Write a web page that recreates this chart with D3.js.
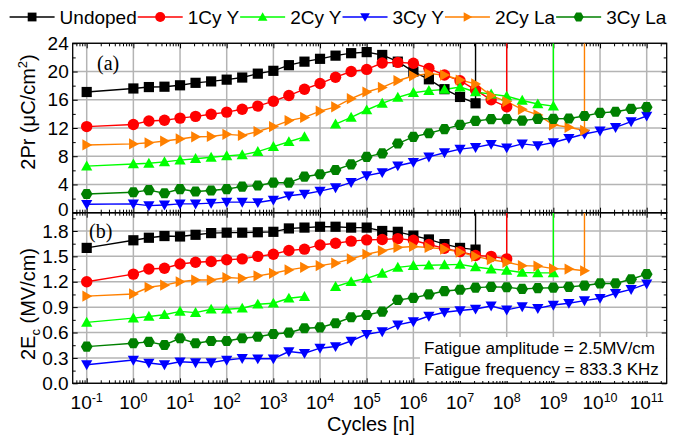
<!DOCTYPE html>
<html>
<head>
<meta charset="utf-8">
<script src="https://cdn.jsdelivr.net/npm/d3@7"></script>
<style>
  body { margin: 0; background: #fff; }
  svg { display: block; }
  text { font-family: "Liberation Sans", Arial, sans-serif; fill: #000; }
</style>
</head>
<body>
<svg id="chart" width="683" height="437"></svg>
<script>
// Fatigue cycles (log spaced, three points per decade after the first)
const cycles = [0.1, 1, 2.15, 4.64, 10, 21.5, 46.4, 100, 215, 464,
  1e3, 2.15e3, 4.64e3, 1e4, 2.15e4, 4.64e4, 1e5, 2.15e5, 4.64e5,
  1e6, 2.15e6, 4.64e6, 1e7, 2.15e7, 4.64e7, 1e8, 2.15e8, 4.64e8,
  1e9, 2.15e9, 4.64e9, 1e10, 2.15e10, 4.64e10, 1e11];

const seriesNames = ["Undoped", "1Cy Y", "2Cy Y", "3Cy Y", "2Cy La", "3Cy La"];
const seriesColors = ["#000000", "#ff0000", "#00ff00", "#0000ff", "#ff8000", "#008000"];
const seriesSymbols = ["square", "circle", "up", "down", "right", "hexagon"];
// series that end in breakdown
const brokenDown = [true, true, true, false, true, false];

// 2Pr (uC/cm^2)
const prUndoped = [17.1, 17.6, 17.8, 17.85, 18.05, 18.4, 18.6, 18.85, 19.15, 19.7,
  20.1, 20.9, 21.4, 21.8, 22.25, 22.6, 22.75, 22.35, 21.4, 20.0,
  18.9, 17.5, 16.4, 15.5];
const pr1CyY = [12.2, 12.5, 13.0, 13.1, 13.4, 13.65, 13.95, 14.25, 14.65, 15.1,
  15.8, 16.6, 17.5, 18.3, 19.2, 20.0, 20.3, 21.2, 21.3, 21.17,
  20.45, 19.5, 18.7, 17.4, 16.0, 15.0];
const pr2CyY = [6.6, 6.9, 7.0, 7.2, 7.45, 7.65, 7.85, 8.05, 8.2, 8.65,
  9.35, 10.05, 10.75, null, 12.55, 13.5, 14.55, 15.5, 16.35, 17.0,
  17.3, 17.45, 17.8, 17.1, 16.8, 16.5, 15.9, 15.4, 15.1];
const pr3CyY = [1.2, 1.25, 1.0, 1.1, 1.25, 1.25, 1.35, 1.5, 1.5, 1.45,
  1.8, 2.4, 2.65, 3.05, 3.55, 4.3, 5.25, 5.7, 6.65, 7.15,
  7.9, 8.5, 9.0, 9.25, 9.7, 9.2, 9.75, 9.5, 9.95, 10.55,
  11.15, 11.6, 12.1, 12.9, 13.7];
const pr2CyLa = [9.6, 9.75, 9.9, 10.15, 10.45, 10.75, 10.8, 11.1, 10.95, 11.5,
  12.2, 13.05, 13.5, 14.4, 15.0, 16.15, 17.1, 17.75, 18.7, 19.4,
  19.7, 19.5, 18.8, 18.25, 16.6, 15.75, 14.65, 13.85, 12.45, 12.1,
  11.65];
const pr3CyLa = [2.65, 2.9, 3.2, 2.75, 3.35, 3.0, 3.15, 3.35, 3.7, 3.85,
  4.25, 4.25, 5.1, 5.45, 6.05, 6.85, 7.9, 8.4, 9.8, 10.75,
  11.25, 11.85, 12.45, 13.0, 13.25, 13.25, 13.05, 13.3, 13.3, 13.35,
  13.7, 14.15, 14.3, 14.7, 14.95];

// 2Ec (MV/cm)
const ecUndoped = [1.6, 1.69, 1.72, 1.74, 1.735, 1.755, 1.775, 1.78, 1.78, 1.785,
  1.79, 1.83, 1.84, 1.85, 1.85, 1.84, 1.84, 1.8, 1.79, 1.745,
  1.7, 1.645, 1.6, 1.58];
const ec1CyY = [1.2, 1.29, 1.35, 1.36, 1.41, 1.43, 1.44, 1.46, 1.47, 1.5,
  1.525, 1.57, 1.585, 1.635, 1.655, 1.68, 1.695, 1.7, 1.71, 1.69,
  1.64, 1.595, 1.556, 1.51, 1.5, 1.47];
const ec2CyY = [0.72, 0.77, 0.79, 0.81, 0.85, 0.835, 0.875, 0.875, 0.887, 0.934,
  0.946, 1.005, 1.025, null, 1.143, 1.2, 1.24, 1.3, 1.37, 1.39,
  1.395, 1.4, 1.405, 1.375, 1.35, 1.335, 1.31, 1.305, 1.305];
const ec3CyY = [0.22, 0.275, 0.24, 0.22, 0.255, 0.245, 0.245, 0.275, 0.295, 0.29,
  0.29, 0.375, 0.355, 0.415, 0.435, 0.5, 0.58, 0.61, 0.69, 0.73,
  0.795, 0.84, 0.86, 0.878, 0.914, 0.867, 0.906, 0.886, 0.925, 0.946,
  0.977, 1.005, 1.064, 1.11, 1.174];
const ec2CyLa = [1.03, 1.056, 1.135, 1.16, 1.2, 1.22, 1.22, 1.25, 1.24, 1.27,
  1.3, 1.34, 1.37, 1.39, 1.42, 1.47, 1.525, 1.565, 1.605, 1.617,
  1.605, 1.585, 1.55, 1.5, 1.46, 1.43, 1.39, 1.385, 1.355, 1.35,
  1.33];
const ec3CyLa = [0.433, 0.473, 0.49, 0.453, 0.532, 0.473, 0.5, 0.5, 0.532, 0.55,
  0.583, 0.598, 0.65, 0.66, 0.71, 0.78, 0.807, 0.847, 0.985, 1.01,
  1.05, 1.09, 1.105, 1.13, 1.14, 1.135, 1.115, 1.125, 1.13, 1.14,
  1.155, 1.18, 1.18, 1.23, 1.29];

const prSeries = [prUndoped, pr1CyY, pr2CyY, pr3CyY, pr2CyLa, pr3CyLa];
const ecSeries = [ecUndoped, ec1CyY, ec2CyY, ec3CyY, ec2CyLa, ec3CyLa];

const decadeExponents = d3.range(-1, 12);
const prTicks = [0, 4, 8, 12, 16, 20, 24];
const ecTicks = [0, 0.3, 0.6, 0.9, 1.2, 1.5, 1.8];
const annotationLines = ["Fatigue amplitude = 2.5MV/cm", "Fatigue frequency = 833.3 KHz"];

// ---------------------------------------------------------------
const svg = d3.select("#chart");
const left = 72.7, right = 666.7;
const topA = 43.3, midY = 212.7, botB = 383.3;

const x = d3.scaleLog().domain([Math.pow(10, -1.3), Math.pow(10, 11.4286)]).range([left, right]);
const yA = d3.scaleLinear().domain([0, 24]).range([midY, topA]);
const yB = d3.scaleLinear().domain([0, 2.016]).range([botB, midY]);

const gridColor = "#b4b4b4";
const tickFont = "19px";
const supFont = "12.5px";

function symbolPath(type, s) {
  switch (type) {
    case "square": return `M${-s},${-s}H${s}V${s}H${-s}Z`;
    case "circle": return d3.symbol(d3.symbolCircle, Math.PI * (s + 0.6) * (s + 0.6))();
    case "up": return `M0,${-s * 1.1}L${s * 1.1},${s * 0.85}L${-s * 1.1},${s * 0.85}Z`;
    case "down": return `M0,${s * 1.1}L${s * 1.1},${-s * 0.85}L${-s * 1.1},${-s * 0.85}Z`;
    case "right": return `M${s * 1.1},0L${-s * 0.85},${s * 1.1}L${-s * 0.85},${-s * 1.1}Z`;
    case "hexagon": {
      const r = s * 1.15;
      const pts = d3.range(6).map(k => {
        const a = Math.PI / 3 * k;
        return [r * Math.cos(a), r * Math.sin(a)];
      });
      return "M" + pts.map(p => p.join(",")).join("L") + "Z";
    }
  }
}

const minorCycles = [];
[2, 3, 4, 5, 6, 7, 8, 9].forEach(m => {
  const v = m * Math.pow(10, -2);
  if (v > x.domain()[0]) minorCycles.push(v);
});
decadeExponents.forEach(e => {
  for (let m = 2; m <= 9; m++) {
    const v = m * Math.pow(10, e);
    if (v < x.domain()[1]) minorCycles.push(v);
  }
});

function drawPanel(y, top, bottom, ticks, step, fmt, data, clipId, liftZero) {
  const g = svg.append("g");

  // grid
  g.append("g").selectAll("line").data(decadeExponents).join("line")
    .attr("x1", e => x(Math.pow(10, e))).attr("x2", e => x(Math.pow(10, e)))
    .attr("y1", top).attr("y2", bottom)
    .attr("stroke", gridColor).attr("stroke-width", 1.5);
  g.append("g").selectAll("line").data(ticks).join("line")
    .attr("x1", left).attr("x2", right)
    .attr("y1", d => y(d)).attr("y2", d => y(d))
    .attr("stroke", gridColor).attr("stroke-width", 1.5);

  const minorY = ticks.map(t => t + step / 2).filter(v => y(v) > top);

  // left axis with labels
  const axL = g.append("g").attr("transform", `translate(${left},0)`)
    .call(d3.axisLeft(y).tickValues(ticks).tickSizeInner(-5).tickSizeOuter(0).tickPadding(4)
      .tickFormat(fmt));
  axL.select(".domain").remove();
  axL.selectAll("text").style("font-size", tickFont).attr("font-family", null);
  if (liftZero) {
    // the zero label sits on the shared border; nudge it up clear of the panel below
    axL.selectAll(".tick").filter(d => d === 0).select("text").attr("y", -3);
  }
  g.append("g").attr("transform", `translate(${left},0)`)
    .call(d3.axisLeft(y).tickValues(minorY).tickSizeInner(-3).tickSizeOuter(0).tickFormat(""))
    .select(".domain").remove();
  // right axis
  g.append("g").attr("transform", `translate(${right},0)`)
    .call(d3.axisRight(y).tickValues(ticks).tickSizeInner(-5).tickSizeOuter(0).tickFormat(""))
    .select(".domain").remove();
  g.append("g").attr("transform", `translate(${right},0)`)
    .call(d3.axisRight(y).tickValues(minorY).tickSizeInner(-3).tickSizeOuter(0).tickFormat(""))
    .select(".domain").remove();

  // top / bottom x ticks, pointing inward
  const majorC = decadeExponents.map(e => Math.pow(10, e));
  [[top, d3.axisTop], [bottom, d3.axisBottom]].forEach(([yy, ax]) => {
    g.append("g").attr("transform", `translate(0,${yy})`)
      .call(ax(x).tickValues(majorC).tickSizeInner(-5).tickSizeOuter(0).tickFormat(""))
      .select(".domain").remove();
    g.append("g").attr("transform", `translate(0,${yy})`)
      .call(ax(x).tickValues(minorCycles).tickSizeInner(-3).tickSizeOuter(0).tickFormat(""))
      .select(".domain").remove();
  });
  g.selectAll(".tick line").attr("stroke", "#000").attr("stroke-width", 1);

  // frame
  g.append("rect").attr("x", left).attr("y", top)
    .attr("width", right - left).attr("height", bottom - top)
    .attr("fill", "none").attr("stroke", "#000").attr("stroke-width", 1.3);

  svg.append("clipPath").attr("id", clipId).append("rect")
    .attr("x", left).attr("y", top).attr("width", right - left).attr("height", bottom - top);

  const plot = svg.append("g").attr("clip-path", `url(#${clipId})`);
  const markers = svg.append("g");

  data.forEach((vals, si) => {
    const pts = vals.map((v, i) => ({ c: cycles[i], v }));
    const line = d3.line().defined(d => d.v != null).x(d => x(d.c)).y(d => y(d.v));
    plot.append("path").datum(pts).attr("d", line)
      .attr("fill", "none").attr("stroke", seriesColors[si]).attr("stroke-width", 1.4);
    if (brokenDown[si]) {
      // breakdown: trace shoots off the top of the panel after the last cycle
      const last = pts[pts.length - 1];
      plot.append("line")
        .attr("x1", x(last.c)).attr("x2", x(last.c))
        .attr("y1", y(last.v)).attr("y2", top)
        .attr("stroke", seriesColors[si]).attr("stroke-width", 1.4);
    }
  });
  data.forEach((vals, si) => {
    const pts = vals.map((v, i) => ({ c: cycles[i], v })).filter(d => d.v != null);
    markers.append("g").selectAll("path").data(pts).join("path")
      .attr("transform", d => `translate(${x(d.c)},${y(d.v)})`)
      .attr("d", symbolPath(seriesSymbols[si], 5.1))
      .attr("fill", seriesColors[si]);
  });
  return g;
}

drawPanel(yA, topA, midY, prTicks, 4, d3.format("d"), prSeries, "clipA", true);
drawPanel(yB, midY, botB, ecTicks, 0.3, d3.format(".1f"), ecSeries, "clipB", false);

// x tick labels (powers of ten)
const xl = svg.append("g");
decadeExponents.forEach(e => {
  const t = xl.append("text").attr("x", x(Math.pow(10, e))).attr("y", 409)
    .attr("text-anchor", "middle").style("font-size", tickFont);
  t.append("tspan").text("10");
  t.append("tspan").attr("dy", -7.5).style("font-size", supFont).text(String(e));
});

// axis titles
svg.append("text").attr("x", 371).attr("y", 431).attr("text-anchor", "middle")
  .style("font-size", "20px").text("Cycles [n]");

const tA = svg.append("text").attr("transform", "translate(35,112) rotate(-90)")
  .attr("text-anchor", "middle").style("font-size", "20px");
tA.append("tspan").text("2Pr (\u03bcC/cm");
tA.append("tspan").attr("dy", -8).style("font-size", "13px").text("2");
tA.append("tspan").attr("dy", 8).text(")");

const tB = svg.append("text").attr("transform", "translate(35,304) rotate(-90)")
  .attr("text-anchor", "middle").style("font-size", "20px");
tB.append("tspan").text("2E");
tB.append("tspan").attr("dy", 5).style("font-size", "13px").text("c");
tB.append("tspan").attr("dy", -5).text(" (MV/cm)");

// panel tags
svg.append("text").attr("x", 97).attr("y", 70)
  .style("font-family", "'Liberation Serif', 'Times New Roman', serif").style("font-size", "20px").text("(a)");
svg.append("text").attr("x", 89).attr("y", 238)
  .style("font-family", "'Liberation Serif', 'Times New Roman', serif").style("font-size", "20px").text("(b)");

// annotation box
svg.append("rect").attr("x", 420).attr("y", 337).attr("width", right - 420 - 0.7).attr("height", 44)
  .attr("fill", "#fff");
annotationLines.forEach((s, i) => {
  svg.append("text").attr("x", 424).attr("y", 353.5 + i * 21)
    .style("font-size", "17px").text(s);
});

// legend
const leg = svg.append("g");
let lx = 9.6;
const ly = 17;
seriesNames.forEach((name, i) => {
  leg.append("line").attr("x1", lx).attr("x2", lx + 45).attr("y1", ly).attr("y2", ly)
    .attr("stroke", seriesColors[i]).attr("stroke-width", 1.4);
  leg.append("path").attr("transform", `translate(${lx + 22.5},${ly})`)
    .attr("d", symbolPath(seriesSymbols[i], 4.4)).attr("fill", seriesColors[i]);
  const t = leg.append("text").attr("x", lx + 50).attr("y", ly).attr("dy", "0.36em")
    .style("font-size", "19px").text(name);
  lx = lx + 50 + t.node().getComputedTextLength() + 1;
});
</script>
</body>
</html>
